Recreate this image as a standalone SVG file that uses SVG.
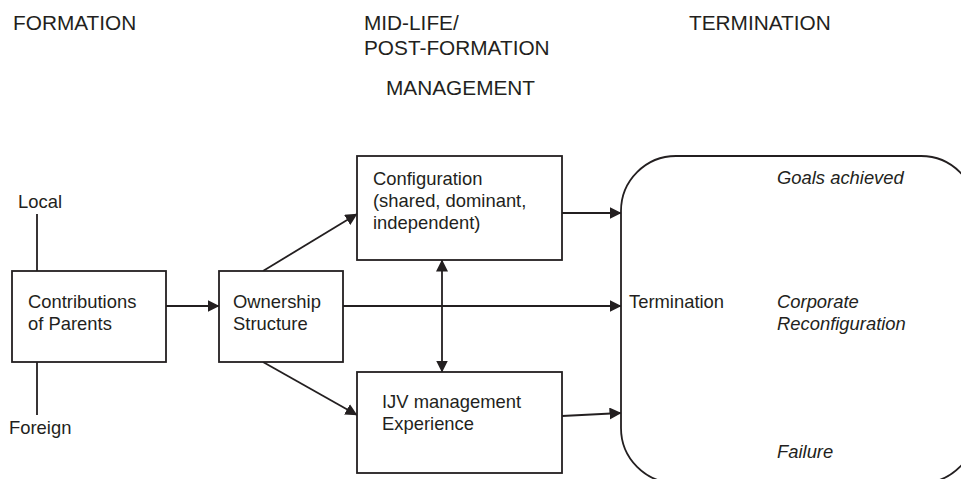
<svg xmlns="http://www.w3.org/2000/svg" width="961" height="479" viewBox="0 0 961 479">
<style>
text{font-family:"Liberation Sans",Arial,Helvetica,sans-serif;fill:#231f20;}
.h{font-size:20.8px;}
.b{font-size:18.4px;}
.i{font-size:18.4px;font-style:italic;}
.box{fill:#fff;stroke:#231f20;stroke-width:1.8;}
.ln{fill:none;stroke:#231f20;stroke-width:1.8;}
</style>
<defs>
<marker id="ah" markerUnits="userSpaceOnUse" markerWidth="12" markerHeight="12" refX="11.5" refY="6" orient="auto-start-reverse" viewBox="0 0 12 12">
<path d="M0,0 L12,6 L0,12 z" fill="#231f20"/>
</marker>
</defs>
<rect width="961" height="479" fill="#fff"/>
<g id="headings">
<text class="h" x="13" y="30">FORMATION</text>
<text class="h" x="364" y="30">MID-LIFE/</text>
<text class="h" x="364" y="55">POST-FORMATION</text>
<text class="h" x="386" y="95">MANAGEMENT</text>
<text class="h" x="689" y="30">TERMINATION</text>
</g>
<g id="connectors">
<line class="ln" x1="37" y1="214" x2="37" y2="271"/>
<line class="ln" x1="37" y1="362" x2="37" y2="415"/>
<line class="ln" x1="166" y1="306" x2="219" y2="306" marker-end="url(#ah)"/>
<line class="ln" x1="263" y1="271" x2="357" y2="214" marker-end="url(#ah)"/>
<line class="ln" x1="263" y1="362" x2="357" y2="415" marker-end="url(#ah)"/>
<line class="ln" x1="343" y1="306" x2="621" y2="306" marker-end="url(#ah)"/>
<line class="ln" x1="442" y1="260" x2="442" y2="372" marker-start="url(#ah)" marker-end="url(#ah)"/>
<line class="ln" x1="562" y1="213" x2="621" y2="213" marker-end="url(#ah)"/>
<line class="ln" x1="562" y1="416" x2="621" y2="413" marker-end="url(#ah)"/>
</g>
<g id="local"><text class="b" x="18" y="208">Local</text></g>
<g id="foreign"><text class="b" x="9" y="434">Foreign</text></g>
<g id="contributions">
<rect class="box" x="12" y="271" width="154" height="91"/>
<text class="b" x="28" y="308">Contributions</text>
<text class="b" x="28" y="330">of Parents</text>
</g>
<g id="ownership">
<rect class="box" x="219" y="271" width="124" height="91"/>
<text class="b" x="233" y="308">Ownership</text>
<text class="b" x="233" y="330">Structure</text>
</g>
<g id="configuration">
<rect class="box" x="357" y="156" width="205" height="104"/>
<text class="b" x="373" y="185">Configuration</text>
<text class="b" x="373" y="207">(shared, dominant,</text>
<text class="b" x="373" y="229">independent)</text>
</g>
<g id="ijv">
<rect class="box" x="357" y="372" width="205" height="101"/>
<text class="b" x="382" y="408">IJV management</text>
<text class="b" x="382" y="430">Experience</text>
</g>
<g id="termination">
<rect class="box" x="621" y="156" width="355" height="327" rx="55" ry="55"/>
<text class="b" x="629" y="308">Termination</text>
<text class="i" x="777" y="184">Goals achieved</text>
<text class="i" x="777" y="308">Corporate</text>
<text class="i" x="777" y="330">Reconfiguration</text>
<text class="i" x="777" y="458">Failure</text>
</g>
</svg>
